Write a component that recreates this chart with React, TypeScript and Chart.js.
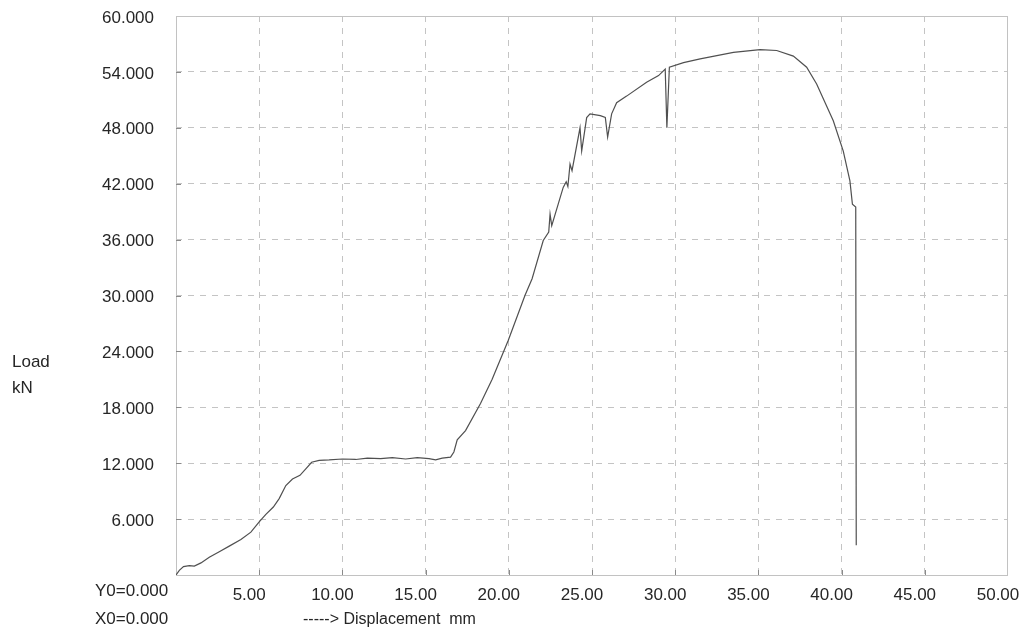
import React, { useEffect, useRef } from "react";
import { Chart, registerables } from "chart.js";

Chart.register(...registerables);

const displacement = [
  0, 0.2, 0.45, 0.8, 1.1, 1.5, 2.0, 2.6, 3.2, 3.9, 4.5, 5.0, 5.4, 5.85, 6.2, 6.6,
  7.0, 7.45, 7.8, 8.15, 8.6, 9.2, 10.0, 10.8, 11.5, 12.3, 13.0, 13.8, 14.5, 15.2,
  15.6, 16.0, 16.5, 16.7, 16.9, 17.4, 18.3, 19.0, 19.97, 20.97, 21.4, 22.07, 22.4,
  22.48, 22.58, 23.0, 23.27, 23.45, 23.55, 23.68, 23.8, 24.28, 24.38, 24.68, 24.88,
  25.5, 25.8, 25.94, 26.18, 26.48, 27.08, 28.28, 29.0, 29.4, 29.5, 29.65, 30.5,
  31.5, 33.5, 35.1, 36.1, 37.1, 37.9, 38.5, 39.5, 40.1, 40.5, 40.65, 40.85, 40.88,
];

const load = [
  0, 0.5, 0.9, 1.0, 0.95, 1.3, 1.9, 2.5, 3.1, 3.8, 4.6, 5.7, 6.5, 7.3, 8.2, 9.6,
  10.3, 10.7, 11.4, 12.1, 12.3, 12.35, 12.45, 12.4, 12.55, 12.5, 12.6, 12.45, 12.6,
  12.5, 12.35, 12.55, 12.65, 13.2, 14.5, 15.5, 18.4, 21.0, 25.2, 30.0, 31.8, 35.9,
  36.8, 38.75, 37.5, 40.0, 41.6, 42.2, 41.7, 44.1, 43.4, 48.0, 45.5, 49.1, 49.5,
  49.3, 49.1, 47.0, 49.5, 50.7, 51.4, 52.9, 53.6, 54.3, 48.0, 54.5, 55.0, 55.4,
  56.1, 56.4, 56.3, 55.7, 54.5, 52.7, 48.75, 45.5, 42.3, 39.8, 39.5, 3.2,
];

const xTickValues = [0, 5, 10, 15, 20, 25, 30, 35, 40, 45, 50];
const yTickValues = [0, 6, 12, 18, 24, 30, 36, 42, 48, 54, 60];

const FONT = "'Liberation Sans', Arial, sans-serif";
const TEXT_COLOR = "#262626";

const textStyle: React.CSSProperties = {
  position: "absolute",
  fontFamily: FONT,
  fontSize: 17,
  lineHeight: "20px",
  color: TEXT_COLOR,
  whiteSpace: "pre",
};

export default function App() {
  const ref = useRef<HTMLCanvasElement>(null);

  useEffect(() => {
    const canvas = ref.current;
    if (!canvas) return;
    const points = displacement.map((x, i) => ({ x, y: load[i] }));

    const framePlugin = {
      id: "frame",
      beforeDatasetsDraw(chart: any) {
        const { ctx, chartArea } = chart;
        const { left, right, top, bottom } = chartArea;
        ctx.save();
        ctx.strokeStyle = "#c2c2c2";
        ctx.lineWidth = 1;
        ctx.setLineDash([]);
        ctx.strokeRect(left + 0.5, top + 0.5, right - left - 1, bottom - top);
        ctx.strokeStyle = "#8a8a8a";
        const xs = chart.scales.x;
        const ys = chart.scales.y;
        xTickValues.forEach((v) => {
          if (v === 0 || v === 50) return;
          const px = Math.round(xs.getPixelForValue(v)) + 0.5;
          ctx.beginPath();
          ctx.moveTo(px, bottom);
          ctx.lineTo(px, bottom - 5);
          ctx.stroke();
        });
        yTickValues.forEach((v) => {
          if (v === 0 || v === 60) return;
          const py = Math.round(ys.getPixelForValue(v)) + 0.5;
          ctx.beginPath();
          ctx.moveTo(left, py);
          ctx.lineTo(left + 5, py);
          ctx.stroke();
        });
        ctx.restore();
      },
    };

    const chart = new Chart(canvas, {
      type: "scatter",
      data: {
        datasets: [
          {
            data: points,
            showLine: true,
            borderColor: "#505050",
            borderWidth: 1.2,
            pointRadius: 0,
            fill: false,
            tension: 0,
          },
        ],
      },
      options: {
        animation: false,
        responsive: false,
        maintainAspectRatio: false,
        layout: {
          padding: { top: 16, right: 15, left: 0, bottom: 0 },
          autoPadding: false,
        } as any,
        plugins: {
          legend: { display: false },
          tooltip: { enabled: false },
        },
        scales: {
          x: {
            type: "linear",
            min: 0,
            max: 50,
            afterBuildTicks: (s: any) => {
              s.ticks = xTickValues.map((value) => ({ value }));
            },
            afterFit: (s: any) => {
              s.height = 55;
              s.paddingLeft = 0;
              s.paddingRight = 0;
              s.paddingTop = 0;
              s.paddingBottom = 0;
            },
            border: { display: false, dash: [6, 6] },
            grid: {
              drawTicks: false,
              lineWidth: 1,
              color: (c: any) =>
                c.tick && (c.tick.value === 0 || c.tick.value === 50)
                  ? "rgba(0,0,0,0)"
                  : "#c4c4c4",
            },
            ticks: {
              autoSkip: false,
              maxRotation: 0,
              padding: 10,
              labelOffset: -10,
              color: TEXT_COLOR,
              font: { family: FONT, size: 17 },
              callback: (v: any) => (Number(v) === 0 ? "" : Number(v).toFixed(2)),
            },
          },
          y: {
            type: "linear",
            min: 0,
            max: 60,
            afterBuildTicks: (s: any) => {
              s.ticks = yTickValues.map((value) => ({ value }));
            },
            afterFit: (s: any) => {
              s.width = 176;
              s.paddingLeft = 0;
              s.paddingRight = 0;
              s.paddingTop = 0;
              s.paddingBottom = 0;
            },
            border: { display: false, dash: [6, 6] },
            grid: {
              drawTicks: false,
              lineWidth: 1,
              color: (c: any) =>
                c.tick && (c.tick.value === 0 || c.tick.value === 60)
                  ? "rgba(0,0,0,0)"
                  : "#c4c4c4",
            },
            ticks: {
              autoSkip: false,
              padding: 22,
              labelOffset: 2,
              color: TEXT_COLOR,
              font: { family: FONT, size: 17 },
              callback: (v: any) => (Number(v) === 0 ? "" : Number(v).toFixed(3)),
            },
          },
        },
      } as any,
      plugins: [framePlugin],
    });

    return () => chart.destroy();
  }, []);

  return (
    <div
      style={{
        position: "fixed",
        left: 0,
        top: 0,
        width: 1023,
        height: 630,
        background: "#ffffff",
      }}
    >
      <canvas
        ref={ref}
        width={1023}
        height={630}
        style={{ position: "absolute", left: 0, top: 0, width: 1023, height: 630 }}
      />
      <span style={{ ...textStyle, left: 12, top: 352 }}>Load</span>
      <span style={{ ...textStyle, left: 12, top: 378 }}>kN</span>
      <span style={{ ...textStyle, left: 95, top: 581 }}>Y0=0.000</span>
      <span style={{ ...textStyle, left: 95, top: 609 }}>X0=0.000</span>
      <span style={{ ...textStyle, left: 303, top: 609, fontSize: 16 }}>{"-----> Displacement  mm"}</span>
    </div>
  );
}
